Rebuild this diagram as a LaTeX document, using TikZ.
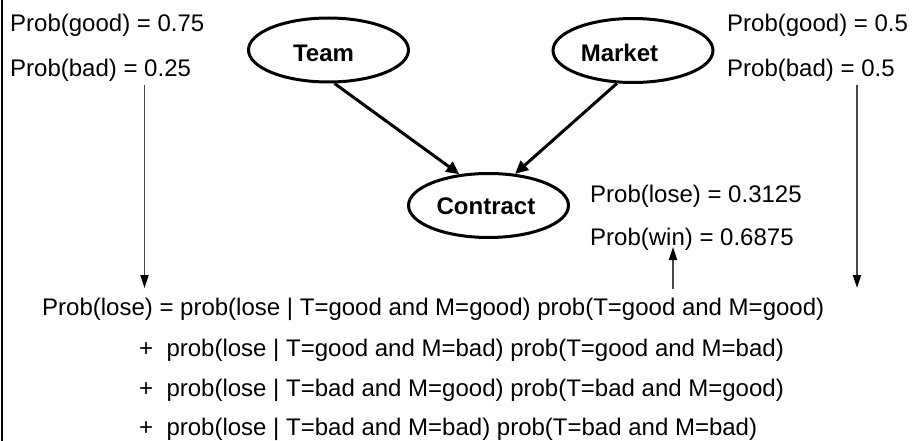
\documentclass[tikz,border=0pt]{standalone}
\usepackage{fontspec}
\setmainfont{Liberation Sans}
\usetikzlibrary{arrows.meta,shapes.geometric}

\begin{document}
\begin{tikzpicture}[x=1pt,y=-1pt,
  txt/.style={font=\fontsize{24}{28}\selectfont, inner sep=0pt, anchor=base west},
  varname/.style={font=\fontsize{24}{28}\selectfont\bfseries, inner sep=0pt, anchor=base},
  varnode/.style={ellipse, draw, line width=3pt, minimum width=160pt, minimum height=64pt, inner sep=0pt},
  depend/.style={line width=3pt, -{Triangle[length=13pt,width=12pt]}},
  feed/.style={line width=1.8pt, draw=black!72, -{Triangle[length=13pt,width=8pt,color=black]}}]
\useasboundingbox (0,0) rectangle (912,441);

% frame edge on the left
\draw[line width=2.5pt] (2,0) -- (2,441);

% network variables
\node[varnode] (team) at (328.5,50) {};
\node[varnode] (market) at (633,50.5) {};
\node[varnode] (contract) at (488.5,205.5) {};
\node[varname] (teamlbl) at (323.5,62) {Team};
\node[varname] (marketlbl) at (619.5,62) {Market};
\node[varname] (contractlbl) at (486,214) {Contract};

\draw[depend] (team.-80) -- (contract.133);
\draw[depend] (market.-116) -- (contract.50);

% prior probabilities
\node[txt] (tgood) at (10,32) {Prob(good) = 0.75};
\node[txt] (tbad) at (10,77) {Prob(bad) = 0.25};
\node[txt] (mgood) at (727,32) {Prob(good) = 0.5};
\node[txt] (mbad) at (727,77) {Prob(bad) = 0.5};

% outcome probabilities
\node[txt] (plose) at (590,202) {Prob(lose) = 0.3125};
\node[txt] (pwin) at (590,245) {Prob(win) = 0.6875};

% total probability expansion
\node[txt] (eq1) at (42,315) {Prob(lose) = prob(lose | T=good and M=good) prob(T=good and M=good)};
\node[txt] (eq2) at (139,356) {+\ \ prob(lose | T=good and M=bad) prob(T=good and M=bad)};
\node[txt] (eq3) at (139,396.5) {+\ \ prob(lose | T=bad and M=good) prob(T=bad and M=good)};
\node[txt] (eq4) at (139,435.5) {+\ \ prob(lose | T=bad and M=bad) prob(T=bad and M=bad)};

% feeds into the expansion
\coordinate (tsrc) at (144.5,85);
\coordinate (tdst) at (144.5,288);
\coordinate (msrc) at (857,85);
\coordinate (mdst) at (857,288);
\coordinate (rsrc) at (673,289);
\coordinate (rdst) at (673,247);
\draw[feed] (tsrc) -- (tdst);
\draw[feed] (msrc) -- (mdst);
\draw[feed] (rsrc) -- (rdst);
\end{tikzpicture}
\end{document}
